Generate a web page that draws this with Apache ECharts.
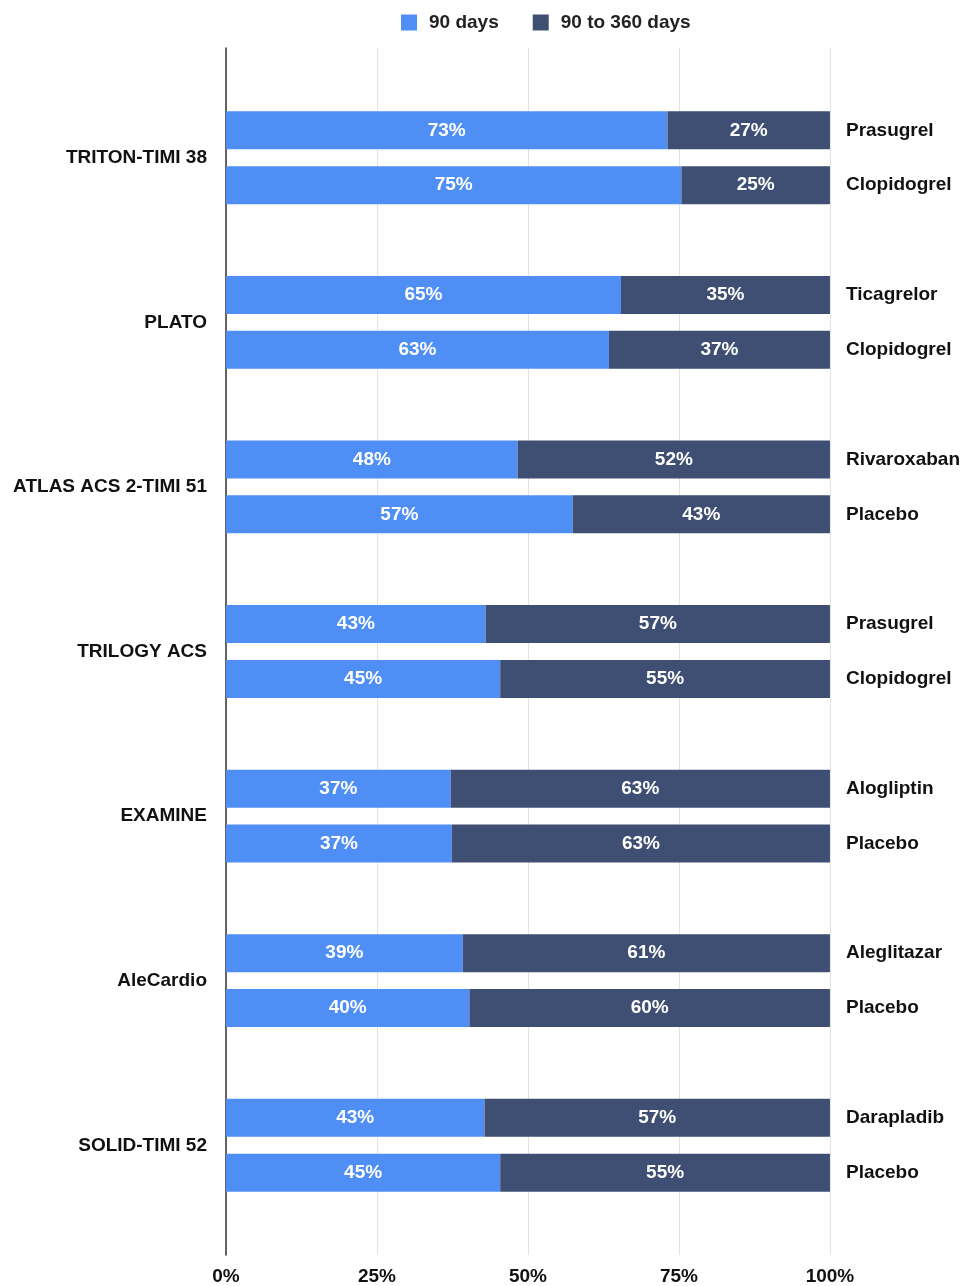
<!DOCTYPE html>
<html>
<head>
<meta charset="utf-8">
<script src="https://cdn.jsdelivr.net/npm/echarts@6/dist/echarts.min.js"></script>
<style>
  html, body { margin: 0; padding: 0; background: #fff; }
  #main { width: 963px; height: 1286px; }
</style>
</head>
<body>
<div id="main"></div>
<script>
// trials and arms (top to bottom)
var trials = ['TRITON-TIMI 38', 'PLATO', 'ATLAS ACS 2-TIMI 51', 'TRILOGY ACS', 'EXAMINE', 'AleCardio', 'SOLID-TIMI 52'];
var arms = ['Prasugrel', 'Clopidogrel', 'Ticagrelor', 'Clopidogrel', 'Rivaroxaban', 'Placebo',
            'Prasugrel', 'Clopidogrel', 'Alogliptin', 'Placebo', 'Aleglitazar', 'Placebo',
            'Darapladib', 'Placebo'];
// share of events (%)
var days90 = [73.1, 75.4, 65.4, 63.4, 48.3, 57.4, 43.0, 45.4, 37.2, 37.4, 39.2, 40.3, 42.8, 45.4];
var days90to360 = [26.9, 24.6, 34.6, 36.6, 51.7, 42.6, 57.0, 54.6, 62.8, 62.6, 60.8, 59.7, 57.2, 54.6];
var xTicks = [0, 25, 50, 75, 100];

// slots: one empty slot, then per trial: arm, arm, empty
var slotLabels = [''];
var a = [null], b = [null];
for (var i = 0; i < arms.length; i++) {
  slotLabels.push(arms[i]);
  a.push(days90[i]);
  b.push(days90to360[i]);
  if (i % 2 == 1) { slotLabels.push(''); a.push(null); b.push(null); }
}
// half-step axis for trial names (between the two arms)
var trialSlots = [];
for (var k = 0; k < slotLabels.length * 2 + 1; k++) trialSlots.push('');
for (var t = 0; t < trials.length; t++) trialSlots[4 + t * 6] = trials[t];

var font = 'Liberation Sans, Arial, sans-serif';
var pct = function (p) { return Math.round(p.value) + '%'; };
var chart = echarts.init(document.getElementById('main'));
var option = {
  color: ['#4f8ff5', '#3f4f73'],
  textStyle: { fontFamily: font },
  legend: {
    top: 8,
    left: 396,
    itemWidth: 16,
    itemHeight: 16,
    itemGap: 34,
    icon: 'rect',
    textStyle: { fontSize: 19, fontWeight: 'bold', color: '#222', fontFamily: font, padding: [0, 0, 0, 7] },
    data: ['90 days', '90 to 360 days']
  },
  grid: { left: 226, right: 131, top: 48, bottom: 29 },
  xAxis: {
    type: 'value',
    min: 0,
    max: 100,
    interval: 25,
    axisLine: { show: false },
    axisTick: { show: false },
    splitLine: { lineStyle: { color: '#e2e2e2', width: 1 } },
    axisLabel: {
      margin: 12,
      fontSize: 19,
      fontWeight: 'bold',
      color: '#111',
      fontFamily: font,
      formatter: function (v) { return xTicks.indexOf(v) >= 0 ? v + '%' : ''; }
    }
  },
  yAxis: [
    {
      type: 'category',
      inverse: true,
      data: slotLabels,
      position: 'left',
      axisLine: { show: true, lineStyle: { color: '#333', width: 1.5 } },
      axisTick: { show: false },
      axisLabel: { show: false }
    },
    {
      type: 'category',
      inverse: true,
      data: slotLabels,
      position: 'right',
      axisLine: { show: false },
      axisTick: { show: false },
      axisLabel: { margin: 16, fontSize: 19, fontWeight: 'bold', color: '#111', fontFamily: font }
    },
    {
      type: 'category',
      inverse: true,
      boundaryGap: false,
      data: trialSlots,
      position: 'left',
      axisLine: { show: false },
      axisTick: { show: false },
      axisLabel: { interval: 0, margin: 19, fontSize: 19, fontWeight: 'bold', color: '#111', fontFamily: font }
    }
  ],
  series: [
    {
      name: '90 days',
      type: 'bar',
      stack: 'total',
      yAxisIndex: 0,
      barWidth: 38,
      data: a,
      label: { show: true, position: 'inside', color: '#fff', fontSize: 19, fontWeight: 'bold', fontFamily: font, formatter: pct }
    },
    {
      name: '90 to 360 days',
      type: 'bar',
      stack: 'total',
      yAxisIndex: 0,
      barWidth: 38,
      data: b,
      label: { show: true, position: 'inside', color: '#fff', fontSize: 19, fontWeight: 'bold', fontFamily: font, formatter: pct }
    }
  ]
};
chart.setOption(option);
window.addEventListener('resize', chart.resize);
</script>
</body>
</html>
